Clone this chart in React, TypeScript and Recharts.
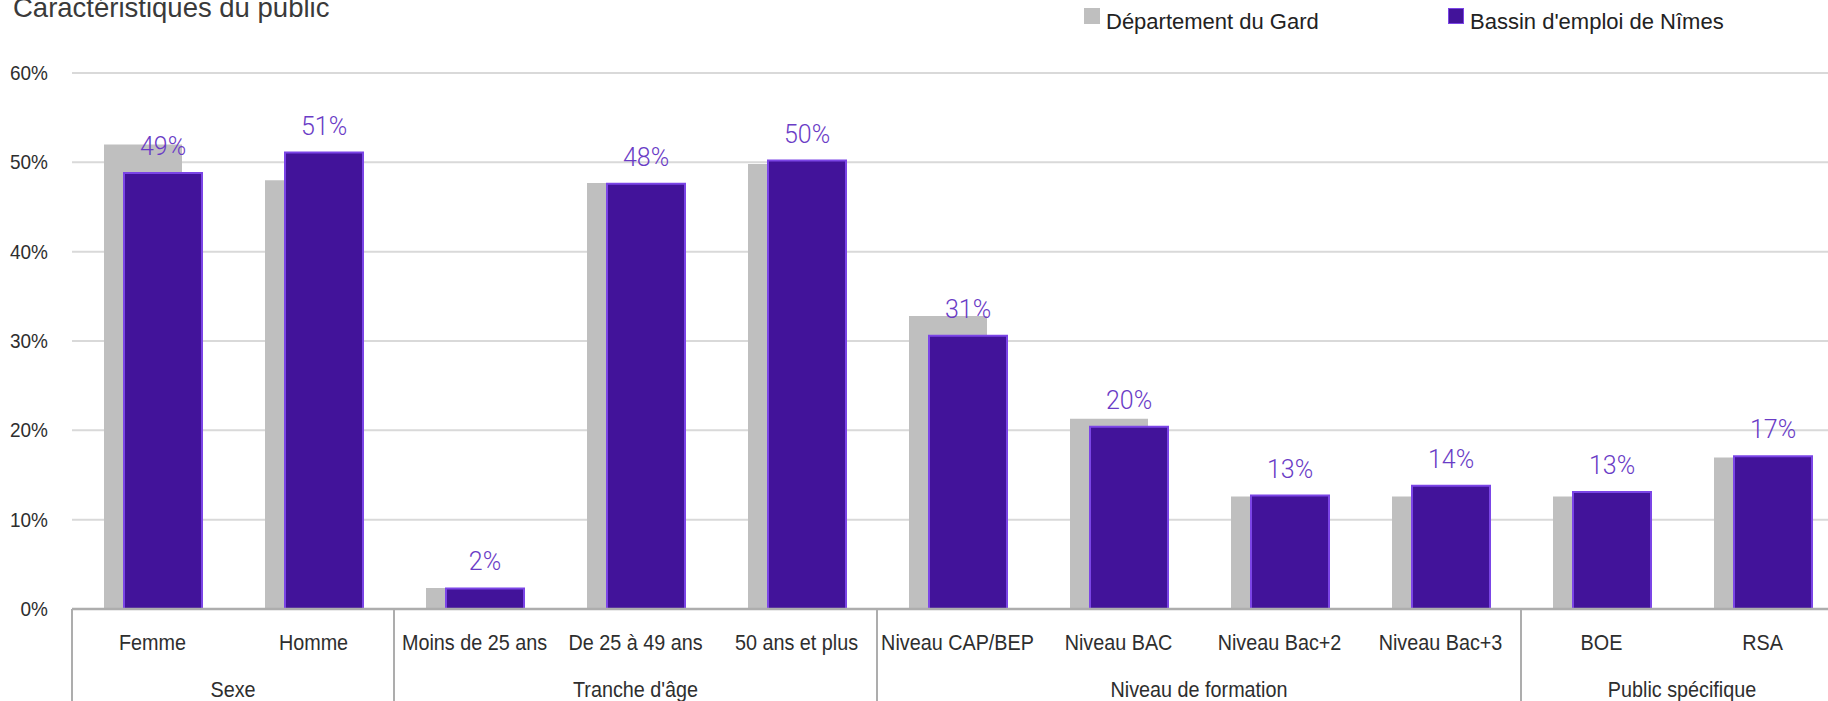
import React from 'react';
import { BarChart, Bar, XAxis, YAxis, CartesianGrid, Legend, LabelList } from 'recharts';

const categories = ['Femme', 'Homme', 'Moins de 25 ans', 'De 25 à 49 ans', '50 ans et plus', 'Niveau CAP/BEP', 'Niveau BAC', 'Niveau Bac+2', 'Niveau Bac+3', 'BOE', 'RSA'];
const gardValues = [52.0, 48.0, 2.35, 47.7, 49.8, 32.8, 21.3, 12.6, 12.6, 12.6, 16.95];
const nimesValues = [48.8, 51.1, 2.3, 47.6, 50.2, 30.6, 20.4, 12.7, 13.8, 13.1, 17.1];
const groupLabels = ['Sexe', "Tranche d'âge", 'Niveau de formation', 'Public spécifique'];
const groupSizes = [2, 3, 4, 2];
const yTicks = [0, 10, 20, 30, 40, 50, 60];
const seriesNames = { gard: 'Département du Gard', nimes: "Bassin d'emploi de Nîmes" };

const rows = categories.map((c, i) => ({ category: c, gard: gardValues[i], nimes: nimesValues[i] }));

const FONT = "'Liberation Sans', Arial, sans-serif";
const GRAY = '#BFBFBF';
const PURPLE = '#42139A';
const PURPLE_EDGE = '#7B45E6';
const LABEL_PURPLE = '#6A3CC6';
const AXIS_GRAY = '#ADADAD';
const TEXT = '#2E2E2E';

function CategoryTick(props: any) {
  const { x, y, payload, index } = props;
  const half = payload && typeof payload.offset === 'number' && payload.offset > 0 ? payload.offset : 80.5;
  let start = 0;
  let groupIndex = -1;
  for (let g = 0; g < groupSizes.length; g++) {
    if (index === start) {
      groupIndex = g;
      break;
    }
    start += groupSizes[g];
  }
  const isLast = index === categories.length - 1;
  return (
    <g>
      <text
        transform={`translate(${x},${y + 41}) scale(0.9,1)`}
        textAnchor="middle"
        fontFamily={FONT}
        fontSize={22}
        fill={TEXT}
      >
        {payload.value}
      </text>
      {groupIndex >= 0 && (
        <g>
          <line x1={x - half} x2={x - half} y1={y} y2={y + 95} stroke={AXIS_GRAY} strokeWidth={2} />
          <text
            transform={`translate(${x - half + groupSizes[groupIndex] * half},${y + 88}) scale(0.9,1)`}
            textAnchor="middle"
            fontFamily={FONT}
            fontSize={22}
            fill={TEXT}
          >
            {groupLabels[groupIndex]}
          </text>
        </g>
      )}
      {isLast && <line x1={x + half} x2={x + half} y1={y} y2={y + 95} stroke={AXIS_GRAY} strokeWidth={2} />}
    </g>
  );
}

function YTick(props: any) {
  const { x, y, payload } = props;
  return (
    <text
      transform={`translate(${x},${y + 7}) scale(0.95,1)`}
      textAnchor="end"
      fontFamily={FONT}
      fontSize={20}
      fill={TEXT}
    >
      {`${payload.value}%`}
    </text>
  );
}

function LegendContent() {
  const items = [
    { name: seriesNames.gard, fill: GRAY, stroke: 'none' },
    { name: seriesNames.nimes, fill: PURPLE, stroke: PURPLE_EDGE },
  ];
  return (
    <div style={{ position: 'relative', height: 44 }}>
      {items.map((it, i) => (
        <div key={it.name} style={{ position: 'absolute', left: i * 364, top: 0, width: 364, height: 44 }}>
          <div
            style={{
              position: 'absolute',
              left: 0,
              top: 8,
              width: 16,
              height: 16,
              boxSizing: 'border-box',
              background: it.fill,
              border: it.stroke === 'none' ? 'none' : `1.5px solid ${it.stroke}`,
            }}
          />
          <span
            style={{
              position: 'absolute',
              left: 22,
              top: 9,
              fontFamily: FONT,
              fontSize: 22,
              lineHeight: '26px',
              color: '#222',
              whiteSpace: 'nowrap',
            }}
          >
            {it.name}
          </span>
        </div>
      ))}
    </div>
  );
}

export default function App() {
  return (
    <div style={{ position: 'fixed', left: 0, top: 0, width: 1828, height: 701, overflow: 'hidden', background: '#fff' }}>
      <div
        style={{
          position: 'absolute',
          left: 13,
          top: -6,
          fontFamily: FONT,
          fontSize: 27.5,
          lineHeight: '28px',
          color: '#3A3A3A',
          whiteSpace: 'nowrap',
          zIndex: 2,
        }}
      >
        Caractéristiques du public
      </div>
      <BarChart
        width={1843}
        height={701}
        data={rows}
        margin={{ top: 73, right: 0, bottom: 0, left: 0 }}
        barGap={-58}
      >
        <CartesianGrid horizontal vertical={false} stroke="#D9D9D9" strokeWidth={2} />
        <XAxis
          dataKey="category"
          height={92}
          interval={0}
          tickLine={false}
          tickSize={0}
          tickMargin={0}
          axisLine={{ stroke: AXIS_GRAY, strokeWidth: 2.5 }}
          tick={<CategoryTick />}
        />
        <YAxis
          width={72}
          domain={[0, 60]}
          ticks={yTicks}
          interval={0}
          axisLine={false}
          tickLine={false}
          tickSize={0}
          tickMargin={24}
          tick={<YTick />}
        />
        <Legend
          layout="horizontal"
          verticalAlign="middle"
          align="center"
          wrapperStyle={{ top: 0, left: 1084, width: 740, height: 44 }}
          content={<LegendContent />}
        />
        <Bar dataKey="gard" name={seriesNames.gard} fill={GRAY} barSize={78} isAnimationActive={false} />
        <Bar
          dataKey="nimes"
          name={seriesNames.nimes}
          fill={PURPLE}
          stroke={PURPLE_EDGE}
          strokeWidth={2}
          barSize={78}
          isAnimationActive={false}
        >
          <LabelList
            dataKey="nimes"
            position="top"
            offset={18}
            formatter={(v: any) => `${Math.round(Number(v))}%`}
            fill={LABEL_PURPLE}
            fontFamily="Roboto, 'Noto Sans', sans-serif"
            fontWeight={300}
            fontSize={25}
          />
        </Bar>
      </BarChart>
    </div>
  );
}
